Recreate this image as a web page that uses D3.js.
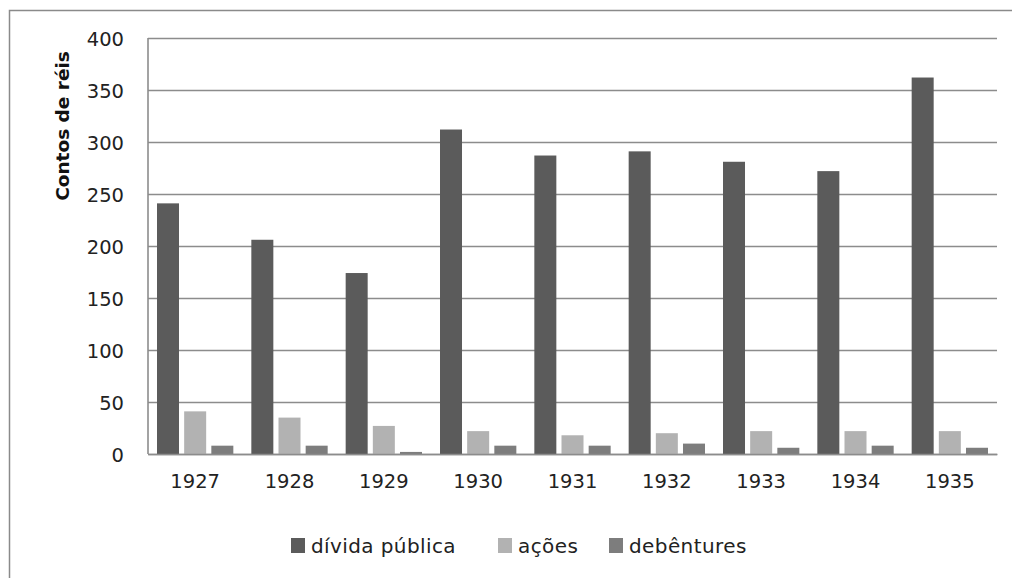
<!DOCTYPE html>
<html>
<head>
<meta charset="utf-8">
<script src="https://cdn.jsdelivr.net/npm/d3@7"></script>
<style>
html,body{margin:0;padding:0;background:#fff;}
svg{display:block;}
</style>
</head>
<body>
<svg id="chart" width="1012" height="578"></svg>
<script>
const years = ["1927","1928","1929","1930","1931","1932","1933","1934","1935"];
const seriesNames = ["dívida pública","ações","debêntures"];
const divida = [241, 206, 174, 312, 287, 291, 281, 272, 362];
const acoes = [41, 35, 27, 22, 18, 20, 22, 22, 22];
const debentures = [8, 8, 2, 8, 8, 10, 6, 8, 6];
const yTicks = [0, 50, 100, 150, 200, 250, 300, 350, 400];
const colors = ["#5b5b5b", "#b2b2b2", "#7d7d7d"];
const yTitle = "Contos de réis";

(function () {
const seriesValues = [divida, acoes, debentures];
const svg = d3.select("#chart");
const font = "'DejaVu Sans', Verdana, sans-serif";

// outer frame
svg.append("rect").attr("x", 9.5).attr("y", 10.5).attr("width", 1010).attr("height", 580)
  .attr("fill", "#fff").attr("stroke", "#8a8a8a").attr("stroke-width", 1.5);

const pl = 148, pr = 997, pt = 38, pb = 454;
const y = d3.scaleLinear().domain([0, 400]).range([pb, pt]);
const x0 = d3.scaleBand().domain(years).range([pl, pr]).paddingInner(0).paddingOuter(0);
const x1 = d3.scaleBand().domain(seriesNames).range([9, x0.bandwidth() - 9]).paddingInner(0.19);

// gridlines
const yAxis = d3.axisLeft(y).tickValues(yTicks).tickSize(-(pr - pl)).tickPadding(24).tickFormat(d3.format("d"));
const gy = svg.append("g").attr("transform", `translate(${pl},0)`).call(yAxis);
gy.select(".domain").remove();
gy.selectAll(".tick line").attr("stroke", "#8c8c8c").attr("stroke-width", 1.6);
gy.selectAll(".tick text").attr("font-family", font).attr("font-size", 19.5).attr("fill", "#222").attr("dy", "0.40em");

// bars
const groups = svg.append("g").selectAll("g").data(years).join("g")
  .attr("transform", d => `translate(${x0(d)},0)`);
groups.selectAll("rect")
  .data((d, i) => seriesNames.map((s, j) => ({s, j, v: seriesValues[j][i]})))
  .join("rect")
  .attr("x", d => x1(d.s))
  .attr("width", x1.bandwidth())
  .attr("y", d => y(d.v))
  .attr("height", d => y(0) - y(d.v))
  .attr("fill", d => colors[d.j]);

// axes lines
svg.append("line").attr("x1", pl).attr("x2", pl).attr("y1", pt).attr("y2", pb)
  .attr("stroke", "#8c8c8c").attr("stroke-width", 1.6);
const xAxis = d3.axisBottom(x0).tickSize(0).tickPadding(30);
const gx = svg.append("g").attr("transform", `translate(0,${pb})`).call(xAxis);
gx.select(".domain").attr("stroke", "#8c8c8c").attr("stroke-width", 1.6);
gx.selectAll(".tick text").attr("font-family", font).attr("font-size", 19.5).attr("fill", "#222").attr("dy", "0.2em");

// y title
svg.append("text").attr("transform", "translate(69,126) rotate(-90)")
  .attr("text-anchor", "middle").attr("font-family", font).attr("font-weight", "bold")
  .attr("font-size", 18.5).attr("fill", "#111").text(yTitle);

// legend
const legendX = [291, 498, 609];
const lg = svg.append("g").selectAll("g").data(seriesNames).join("g")
  .attr("transform", (d, i) => `translate(${legendX[i]},538)`);
lg.append("rect").attr("width", 14).attr("height", 15).attr("fill", (d, i) => colors[i]);
lg.append("text").attr("x", 20).attr("y", 15).attr("font-family", font).attr("font-size", 20)
  .attr("fill", "#222").attr("letter-spacing", "0.4px").text(d => d);
})();
</script>
</body>
</html>
